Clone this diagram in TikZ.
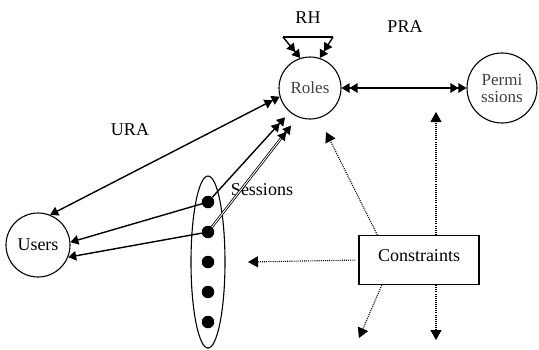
\documentclass[tikz,border=0pt]{standalone}
\usepackage{fontspec}
\setmainfont{Liberation Serif}
\usetikzlibrary{arrows.meta,positioning,shapes.geometric}

\begin{document}
\begin{tikzpicture}[
    x=1pt, y=-1pt,
    >={Triangle[length=8pt,width=9.5pt]},
    ent/.style={circle, draw=black, line width=1.1pt, inner sep=0pt, font=\fontsize{17}{17}\selectfont},
    dot/.style={circle, fill=black, minimum size=12.5pt, inner sep=0pt},
    lbl/.style={font=\fontsize{18}{20}\selectfont},
    link/.style={line width=1.4pt},
    cons/.style={line width=1.1pt, dash pattern=on 1pt off 1.1pt, -{Triangle[length=10pt,width=11pt]}}
    ]
    \useasboundingbox (0,0) rectangle (539,349);

    \node[ent, minimum size=62pt, text=black!75] (roles) at (310,88) {Roles};
    \node[ent, minimum size=70pt, text=black!75, align=center] (perm) at (502,88) {Permi\\ssions};
    \node[ent, minimum size=64pt, font=\fontsize{18}{20}\selectfont] (users) at (38,245) {Users};
    \node[ellipse, draw=black, line width=1.1pt, minimum width=34pt, minimum height=172pt] (sess) at (208,262) {};
    \foreach \y [count=\i] in {202,232,262,292,322}
      \node[dot] (d\i) at (208,\y) {};
    \node[draw=black, line width=1.2pt, minimum width=120pt, minimum height=49pt, text depth=8pt, lbl] (constr) at (419,260) {Constraints};

    \node[lbl] (rh) at (308,18) {RH};
    \node[lbl] (pra) at (405,27) {PRA};
    \node[lbl] (ura) at (130,130) {URA};
    \node[lbl] (sesslbl) at (262,190) {Sessions};

    % role hierarchy
    \coordinate (rhl) at (283,37);
    \coordinate (rhr) at (333,37);
    \draw[link] (rhl) -- (rhr);
    \draw[link, ->>] (rhl) -- (roles.108);
    \draw[link, ->>] (rhr) -- (roles.72);

    % assignments
    \draw[link, <<->>] (roles) -- (perm);
    \draw[link, <->>] (users.68) -- (roles.196);
    \draw[link, ->] (d1) -- (users.5);
    \draw[link, ->>, shorten >=7pt] (d1) -- (roles.230);
    \draw[link, ->] (d2) -- (users.-22);
    \draw[line width=0.8pt, double, double distance=0.9pt, ->>, shorten >=11pt] (d2) -- (roles.247);

    % constraints
    \coordinate (c1) at (248,262);
    \coordinate (c2) at (326,132);
    \coordinate (c3) at (436,112);
    \coordinate (c4) at (359,338);
    \coordinate (c5) at (436,340);
    \draw[cons, shorten <=3pt] (constr.west) -- (c1);
    \draw[cons] (constr.149) -- (c2);
    \draw[cons] (constr.north -| c3) -- (c3);
    \draw[cons] (constr.214) -- (c4);
    \draw[cons] (constr.south -| c5) -- (c5);
\end{tikzpicture}
\end{document}
